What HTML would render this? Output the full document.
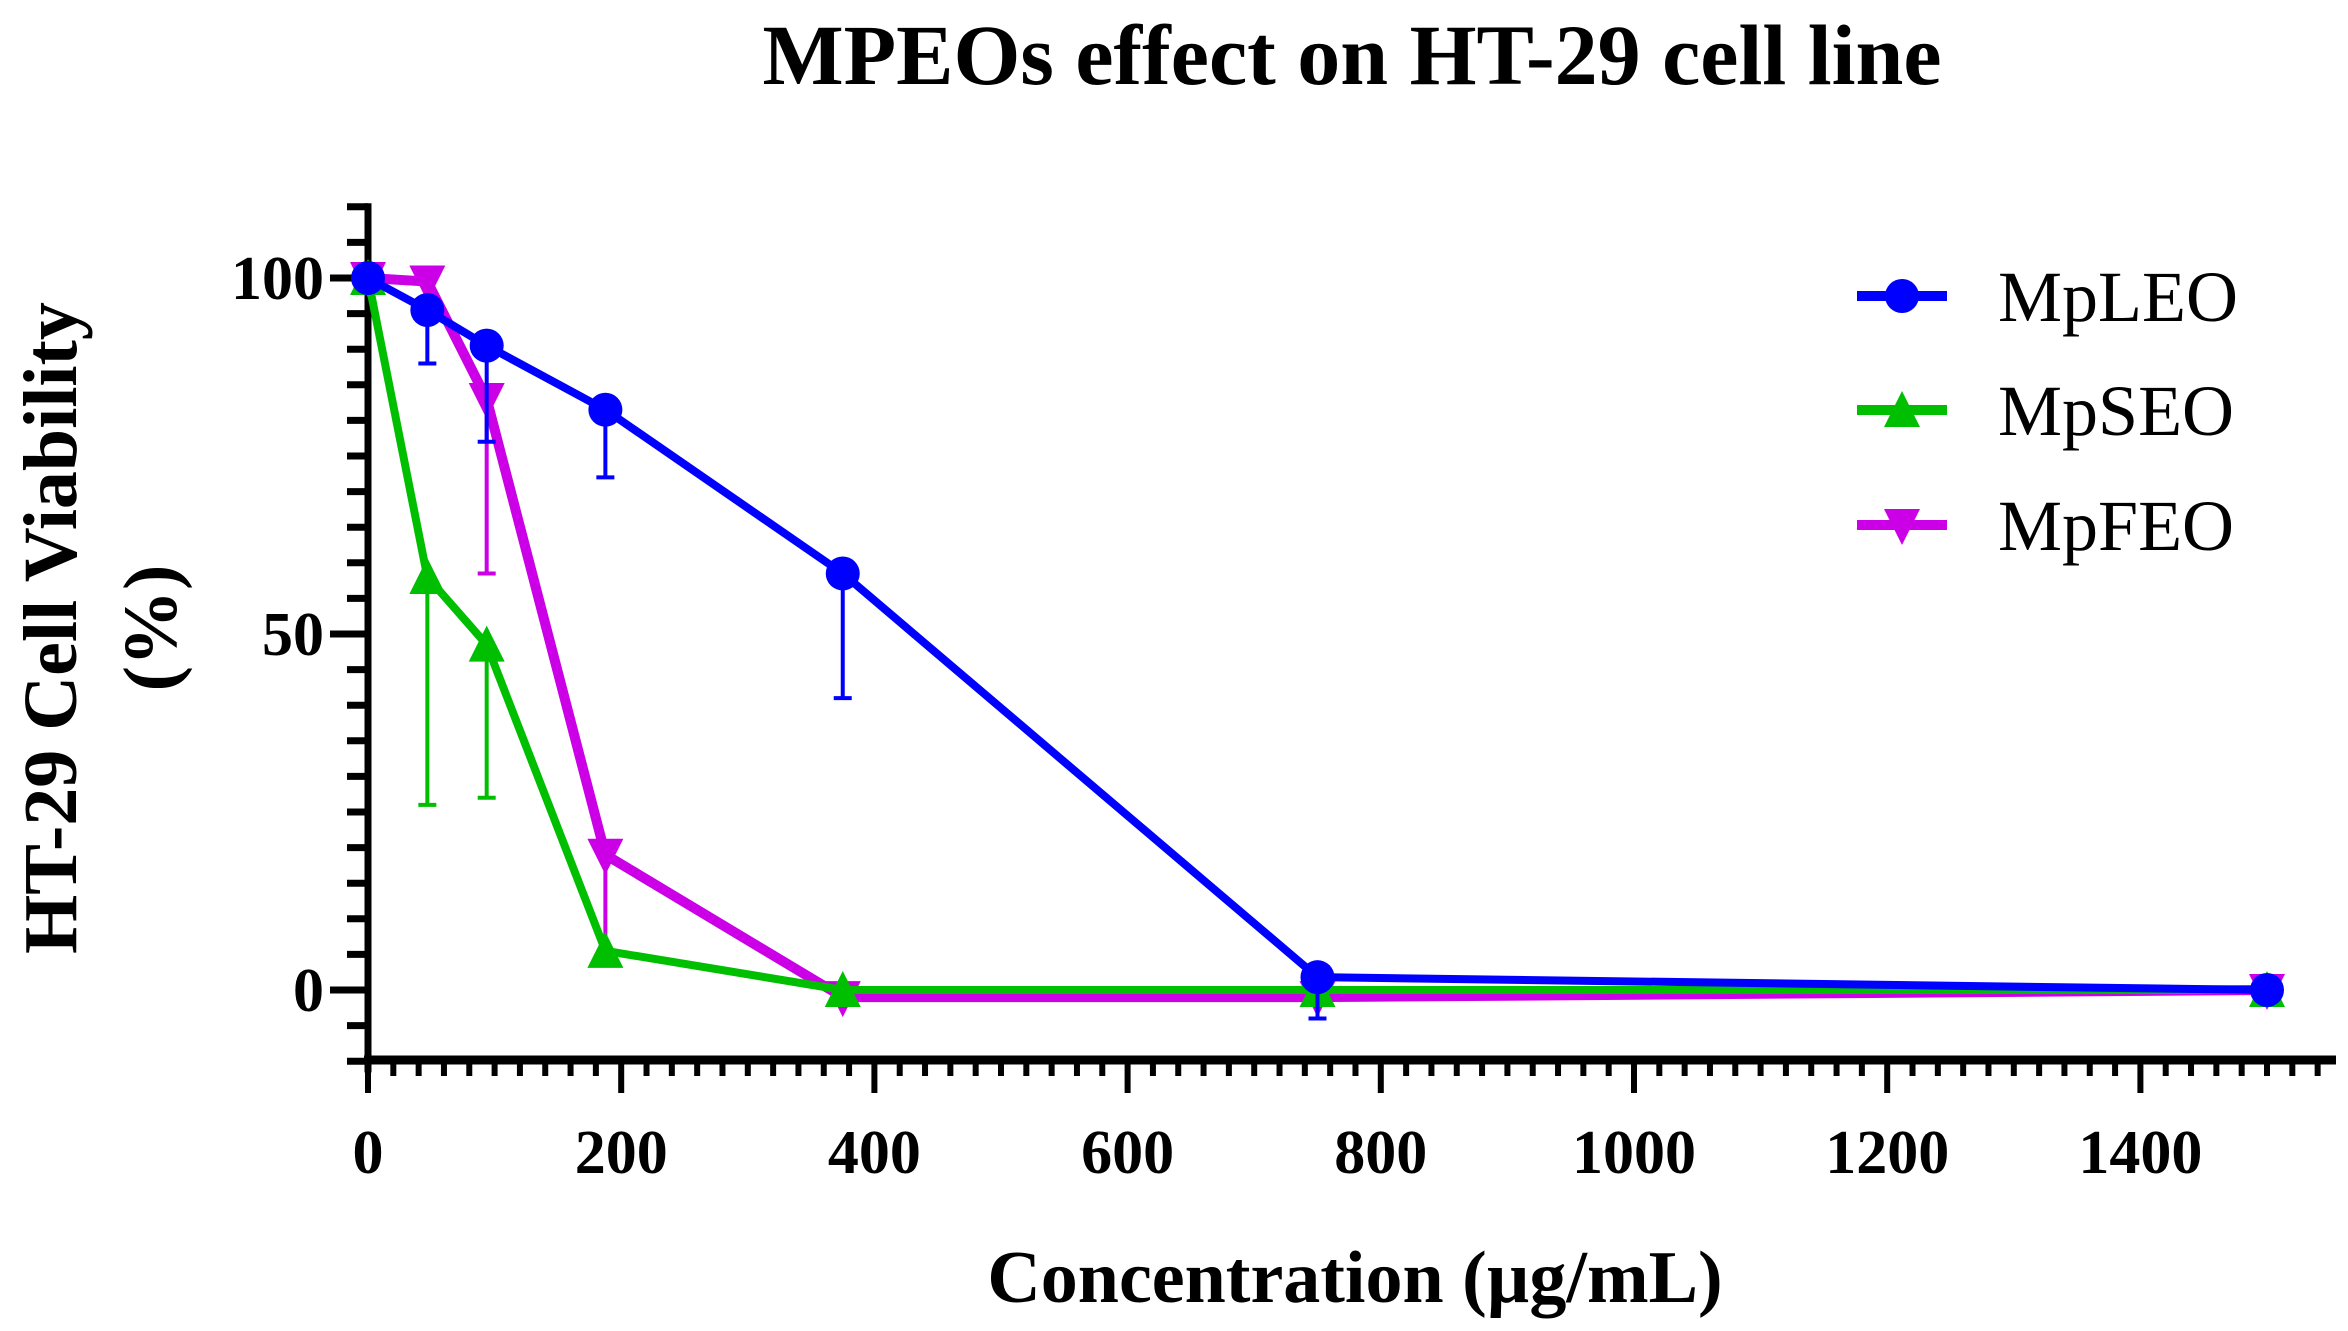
<!DOCTYPE html>
<html><head><meta charset="utf-8"><style>
html,body{margin:0;padding:0;background:#fff;}
svg{display:block;font-family:"Liberation Serif",serif;}
</style></head><body>
<svg id="chart" width="2348" height="1331" viewBox="0 0 2348 1331">
<text x="1352" y="84" text-anchor="middle" font-size="86" font-weight="bold">MPEOs effect on HT-29 cell line</text>
<text transform="translate(76,628) rotate(-90)" text-anchor="middle" font-size="76" font-weight="bold">HT-29 Cell Viability</text>
<text transform="translate(176,628) rotate(-90)" text-anchor="middle" font-size="76" font-weight="bold">(%)</text>
<text x="1355" y="1302" text-anchor="middle" font-size="74" font-weight="bold">Concentration (µg/mL)</text>
<g id="axes"></g>
<g id="series"></g>
<g id="legend"></g>
</svg>
<script>
const xValues = [0, 46.875, 93.75, 187.5, 375, 750, 1500];
const seriesNames = ["MpLEO", "MpSEO", "MpFEO"];
const lebMeans = [100, 95.5, 90.5, 81.5, 58.5, 1.8, 0];
const lebLow = [100, 88, 77, 72, 41, -4, 0];
const sebMeans = [100, 58, 48.5, 5.5, 0, 0, 0];
const sebLow = [100, 26, 27, 5.5, 0, 0, 0];
const febMeans = [100, 99.5, 83, 19, -1, -1, 0];
const febLow = [100, 99.5, 58.5, 5, -1, -1, 0];
const xTicks = [0, 200, 400, 600, 800, 1000, 1200, 1400];
const yTicks = [0, 50, 100];

const NS = "http://www.w3.org/2000/svg";
const x0 = 368, xPer = 253.2 / 200;
const y0 = 990, yPer = 712 / 100;
function sx(v){ return x0 + v * xPer; }
function sy(v){ return y0 - v * yPer; }
function mk(tag, attrs, parent){
  const e = document.createElementNS(NS, tag);
  for (const k in attrs) e.setAttribute(k, attrs[k]);
  parent.appendChild(e);
  return e;
}
const axes = document.getElementById('axes');
let e = mk('line', {x1:x0, y1:sy(110.5), x2:x0, y2:sy(-11) + 4, stroke:'#000', 'stroke-width':7}, axes);


for (let v = -10; v <= 110; v += 5) {
  const major = yTicks.includes(v);
  e = mk('line', {x1: major ? 330 : 347, y1: sy(v), x2: x0, y2: sy(v), stroke:'#000', 'stroke-width':7}, axes);
  
  
}
yTicks.forEach(v => {
  const t = mk('text', {x:324, y:sy(v) + 21, 'text-anchor':'end', 'font-size':62, 'font-weight':'bold'}, axes);
  t.textContent = v;
  
  
});
e = mk('line', {x1:x0 - 4, y1:1060, x2:2336, y2:1060, stroke:'#000', 'stroke-width':9}, axes);


for (let v = 0; v <= 1540; v += 20) {
  const major = v % 200 === 0;
  e = mk('line', {x1:sx(v), y1:1060, x2:sx(v), y2: major ? 1093 : 1076, stroke:'#000', 'stroke-width':6}, axes);
  
  
}
xTicks.forEach(v => {
  const t = mk('text', {x:sx(v), y:1173, 'text-anchor':'middle', 'font-size':62, 'font-weight':'bold'}, axes);
  t.textContent = v;
  
  
});

const series = document.getElementById('series');
function marker(type, cx, cy, color, g){
  let m;
  if (type === 'circle') m = mk('circle', {cx, cy, r:17, fill:color}, g);
  else if (type === 'up') m = mk('polygon', {points:`${cx-18},${cy+17} ${cx+18},${cy+17} ${cx},${cy-19}`, fill:color}, g);
  else m = mk('polygon', {points:`${cx-18},${cy-16} ${cx+18},${cy-16} ${cx},${cy+20}`, fill:color}, g);
  return m;
}
function drawSeries(name, means, low, color, width, type){
  const g = mk('g', {}, series);
  
  
  xValues.forEach((xv, i) => {
    if (low[i] < means[i] - 0.5) {
      const eb = mk('path', {d:`M${sx(xv)},${sy(means[i])} V${sy(low[i])} M${sx(xv)-9},${sy(low[i])} H${sx(xv)+9}`, stroke:color, 'stroke-width':4, fill:'none'}, g);
      
      
    }
  });
  const pts = xValues.map((xv, i) => sx(xv) + ',' + sy(means[i])).join(' ');
  const pl = mk('polyline', {points:pts, fill:'none', stroke:color, 'stroke-width':width, 'stroke-linejoin':'round'}, g);
  
  
  xValues.forEach((xv, i) => {
    const m = marker(type, sx(xv), sy(means[i]), color, g);
    
    
  });
}
drawSeries(seriesNames[2], febMeans, febLow, '#cc00e6', 10, 'down');
drawSeries(seriesNames[1], sebMeans, sebLow, '#00bf00', 8, 'up');
drawSeries(seriesNames[0], lebMeans, lebLow, '#0000ff', 8, 'circle');

const legend = document.getElementById('legend');
const legColors = ['#0000ff', '#00bf00', '#cc00e6'];
const legTypes = ['circle', 'up', 'down'];
const legY = [296, 410, 525];
seriesNames.forEach((n, i) => {
  const g = mk('g', {}, legend);
  
  
  mk('line', {x1:1857, y1:legY[i], x2:1947, y2:legY[i], stroke:legColors[i], 'stroke-width':10}, g);
  marker(legTypes[i], 1902, legY[i], legColors[i], g);
  const t = mk('text', {x:1998, y:legY[i] + 25, 'font-size':72}, g);
  t.textContent = n;
});
</script>
</body></html>
